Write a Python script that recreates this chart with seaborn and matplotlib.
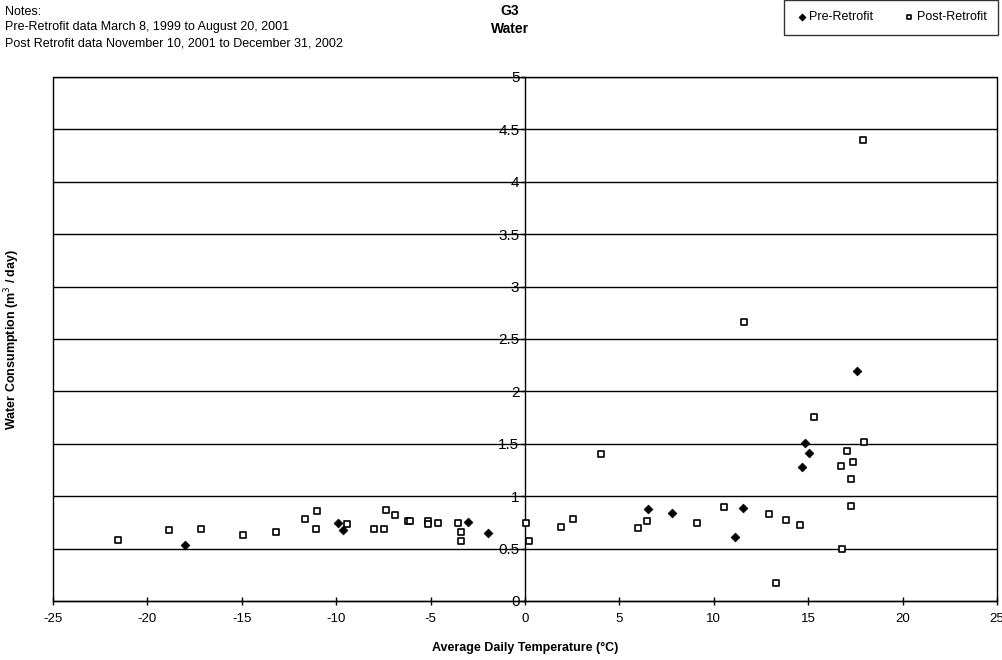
import matplotlib
matplotlib.use("Agg")
import matplotlib.pyplot as plt
from matplotlib.patches import Rectangle
import seaborn as sns
import pandas as pd

pre_temp = [-18.0, -9.93, -9.66, -3.0, -1.94, 6.5, 7.79, 11.13, 11.55, 14.68, 14.82, 15.05, 17.58]
pre_water = [0.535, 0.748, 0.678, 0.755, 0.646, 0.88, 0.84, 0.61, 0.89, 1.28, 1.51, 1.41, 2.19]

post_temp = [-21.55, -18.85, -17.17, -14.96, -13.2, -11.64, -11.02, -11.08, -9.45, -8.0, -7.47,
             -7.37, -6.89, -6.18, -6.1, -5.12, -5.12, -4.59, -3.53, -3.39, -3.39, 0.03, 0.2,
             1.89, 2.53, 4.05, 5.99, 6.48, 9.11, 10.53, 11.62, 12.9, 13.32, 13.83, 14.57,
             15.32, 16.73, 16.8, 17.05, 17.26, 17.28, 17.38, 17.9, 17.98]
post_water = [0.58, 0.675, 0.69, 0.633, 0.662, 0.78, 0.862, 0.685, 0.73, 0.685, 0.685,
              0.866, 0.82, 0.764, 0.76, 0.764, 0.73, 0.748, 0.748, 0.662, 0.576, 0.748, 0.576,
              0.704, 0.78, 1.40, 0.694, 0.761, 0.748, 0.90, 2.66, 0.834, 0.172, 0.77, 0.726,
              1.76, 1.29, 0.50, 1.43, 1.16, 0.907, 1.33, 4.40, 1.52]

x_ticks = [-25, -20, -15, -10, -5, 0, 5, 10, 15, 20, 25]
y_ticks = [0, 0.5, 1, 1.5, 2, 2.5, 3, 3.5, 4, 4.5, 5]
y_labels = ["0", "0.5", "1", "1.5", "2", "2.5", "3", "3.5", "4", "4.5", "5"]

pre_df = pd.DataFrame({"temp": pre_temp, "water": pre_water})
post_df = pd.DataFrame({"temp": post_temp, "water": post_water})

sns.set_theme(style="white")
plt.rcParams["font.family"] = ["Liberation Sans", "DejaVu Sans"]
plt.rcParams["text.color"] = "black"
plt.rcParams["axes.labelcolor"] = "black"
plt.rcParams["xtick.color"] = "black"
plt.rcParams["ytick.color"] = "black"

fig = plt.figure(figsize=(10.02, 6.60), dpi=100)
ax = fig.add_axes([53 / 1002, 59 / 660, (997 - 53) / 1002, (601 - 77) / 660])

sns.scatterplot(data=post_df, x="temp", y="water", ax=ax, marker="s", s=20,
                facecolor="white", edgecolor="black", linewidth=1.2, label="Post-Retrofit", zorder=4)
sns.scatterplot(data=pre_df, x="temp", y="water", ax=ax, marker="D", s=20,
                color="black", edgecolor="black", linewidth=0.5, label="Pre-Retrofit", zorder=5)

ax.set_xlim(-25, 25)
ax.set_ylim(0, 5)
ax.set_xticks(x_ticks)
ax.set_xticklabels([str(t) for t in x_ticks], fontsize=9.5)
ax.set_yticks(y_ticks)
ax.set_yticklabels(y_labels, fontsize=9.5)

ax.grid(False)
for yv in y_ticks[1:]:
    ax.axhline(yv, color="black", lw=1.0, zorder=1)

ax.spines["left"].set_position(("data", 0))
ax.spines["left"].set_color("black")
ax.spines["left"].set_linewidth(1.0)
ax.spines["bottom"].set_color("black")
ax.spines["bottom"].set_linewidth(1.0)
ax.spines["top"].set_visible(False)
ax.spines["right"].set_visible(False)
ax.add_patch(Rectangle((0, 0), 1, 1, transform=ax.transAxes, fill=False,
                       edgecolor="black", lw=1.0, zorder=2, clip_on=False))

ax.tick_params(axis="x", direction="inout", length=6, width=1, color="black", pad=6, labelcolor="black")
ax.tick_params(axis="y", direction="out", length=3, width=1, color="black", pad=1, labelcolor="black")
ax.tick_params(bottom=True, left=True)

ax.set_xlabel("Average Daily Temperature (\u00b0C)", fontsize=9, fontweight="bold", labelpad=12, color="black")
ax.set_ylabel("Water Consumption (m$^3$ / day)", fontsize=9, fontweight="bold", color="black")
ax.yaxis.set_label_coords((22 - 53) / 944, 0.5)

if ax.legend_:
    ax.legend_.remove()
handles, labels = ax.get_legend_handles_labels()
order = [labels.index("Pre-Retrofit"), labels.index("Post-Retrofit")]
leg = fig.legend([handles[i] for i in order], [labels[i] for i in order],
                 loc="upper right", bbox_to_anchor=(998 / 1002, 1.0), ncol=2,
                 fontsize=9, frameon=True, fancybox=False, edgecolor="black",
                 handletextpad=0.1, columnspacing=2.4, borderpad=0.9, markerscale=0.8,
                 handlelength=1.0, borderaxespad=0.0)
leg.get_frame().set_linewidth(1.0)

fig.text(5 / 1002, 1 - 12 / 660, "Notes:", fontsize=9, va="center", ha="left")
fig.text(5 / 1002, 1 - 27 / 660, "Pre-Retrofit data March 8, 1999 to August 20, 2001", fontsize=9, va="center", ha="left")
fig.text(5 / 1002, 1 - 43 / 660, "Post Retrofit data November 10, 2001 to December 31, 2002", fontsize=9, va="center", ha="left")
fig.text(510 / 1002, 1 - 11 / 660, "G3", fontsize=10, fontweight="bold", va="center", ha="center")
fig.text(510 / 1002, 1 - 29 / 660, "Water", fontsize=10, fontweight="bold", va="center", ha="center")

fig.savefig("out.png", dpi=100, facecolor="white")
